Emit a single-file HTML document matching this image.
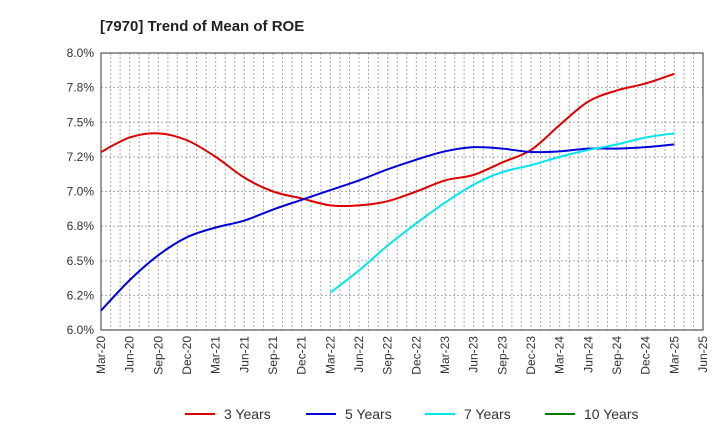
<!DOCTYPE html>
<html><head><meta charset="utf-8"><style>
body{margin:0;background:#fff;font-family:"Liberation Sans",sans-serif}
svg text{font-family:"Liberation Sans",sans-serif}
</style></head><body>
<svg id="c" width="720" height="440">
<text x="100" y="31" font-size="15" font-weight="bold" fill="#222">[7970]  Trend of Mean of ROE</text>
<g id="grid"></g>
<g id="axes"></g>
<g id="series"></g>
<g id="legend"></g>
</svg>
<script>
const xLabels=["Mar-20","Jun-20","Sep-20","Dec-20","Mar-21","Jun-21","Sep-21","Dec-21","Mar-22","Jun-22","Sep-22","Dec-22","Mar-23","Jun-23","Sep-23","Dec-23","Mar-24","Jun-24","Sep-24","Dec-24","Mar-25","Jun-25"];
const yTicks=[6.0,6.25,6.5,6.75,7.0,7.25,7.5,7.75,8.0];
const yTickLabels=["6.0%","6.2%","6.5%","6.8%","7.0%","7.2%","7.5%","7.8%","8.0%"];
const s3=[7.285,7.39,7.42,7.37,7.25,7.10,7.0,6.95,6.90,6.90,6.93,7.0,7.08,7.12,7.21,7.30,7.48,7.65,7.73,7.78,7.85];
const s5=[6.14,6.36,6.54,6.67,6.74,6.79,6.87,6.94,7.01,7.08,7.16,7.23,7.29,7.32,7.31,7.285,7.29,7.31,7.31,7.32,7.34];
const s7=[null,null,null,null,null,null,null,null,6.27,6.43,6.61,6.77,6.92,7.05,7.14,7.19,7.25,7.30,7.34,7.39,7.42];
const s10=[];
const L=101,R=703,T=53,B=330;
const X=i=>L+i*(R-L)/(xLabels.length-1);
const Y=v=>B-(v-6)/2*(B-T);
const NS="http://www.w3.org/2000/svg";
function mk(p,t,a){const e=document.createElementNS(NS,t);for(const k in a)e.setAttribute(k,a[k]);p.appendChild(e);return e;}
const g=document.getElementById('grid');
for(let m=1;m<(xLabels.length-1)*3;m++){const x=L+m*(R-L)/((xLabels.length-1)*3);
const l=mk(g,'line',{x1:x,x2:x,y1:T,y2:B,stroke:'#aaa','stroke-dasharray':'2,2','stroke-width':1});
}
yTicks.forEach((v,i)=>{if(i==0||i==yTicks.length-1)return;
const l=mk(g,'line',{x1:L,x2:R,y1:Y(v),y2:Y(v),stroke:'#aaa','stroke-dasharray':'2,2'});
});
const a=document.getElementById('axes');
const fr=mk(a,'rect',{x:L,y:T,width:R-L,height:B-T,fill:'none',stroke:'#333','stroke-width':1});

yTicks.forEach((v,i)=>{const t=mk(a,'text',{x:L-7,y:Y(v)+4,'text-anchor':'end','font-size':12,fill:'#333'});t.textContent=yTickLabels[i];
});
xLabels.forEach((s,i)=>{const x=X(i);const t=mk(a,'text',{x:x+4,y:B+6,'text-anchor':'end','font-size':12,fill:'#333',transform:`rotate(-90 ${x+4} ${B+6})`});t.textContent=s;
});
const sr=document.getElementById('series');
function path(arr){let d='',pts=[];arr.forEach((v,i)=>{if(v!=null)pts.push([X(i),Y(v)])});
if(!pts.length)return '';d='M'+pts[0];
for(let i=0;i<pts.length-1;i++){const p0=pts[Math.max(0,i-1)],p1=pts[i],p2=pts[i+1],p3=pts[Math.min(pts.length-1,i+2)];
const c1=[p1[0]+(p2[0]-p0[0])/6,p1[1]+(p2[1]-p0[1])/6],c2=[p2[0]-(p3[0]-p1[0])/6,p2[1]-(p3[1]-p1[1])/6];d+=' C'+c1+' '+c2+' '+p2;}return d;}
const series=[["3 Years",s3,"#e00000"],["5 Years",s5,"#0000dd"],["7 Years",s7,"#00e5ee"],["10 Years",s10,"#008000"]];
series.forEach(([n,arr,c])=>{const d=path(arr);if(!d)return;const p=mk(sr,'path',{d:d,fill:'none',stroke:c,'stroke-width':2});
});
const lg=document.getElementById('legend');const lx=[185,306,425,545];
series.forEach(([n,arr,c],i)=>{const e=mk(lg,'g',{});
mk(e,'line',{x1:lx[i],x2:lx[i]+30,y1:414,y2:414,stroke:c,'stroke-width':2});
const t=mk(e,'text',{x:lx[i]+39,y:419,'font-size':14,fill:'#333'});t.textContent=n;});
</script>
</body></html>
